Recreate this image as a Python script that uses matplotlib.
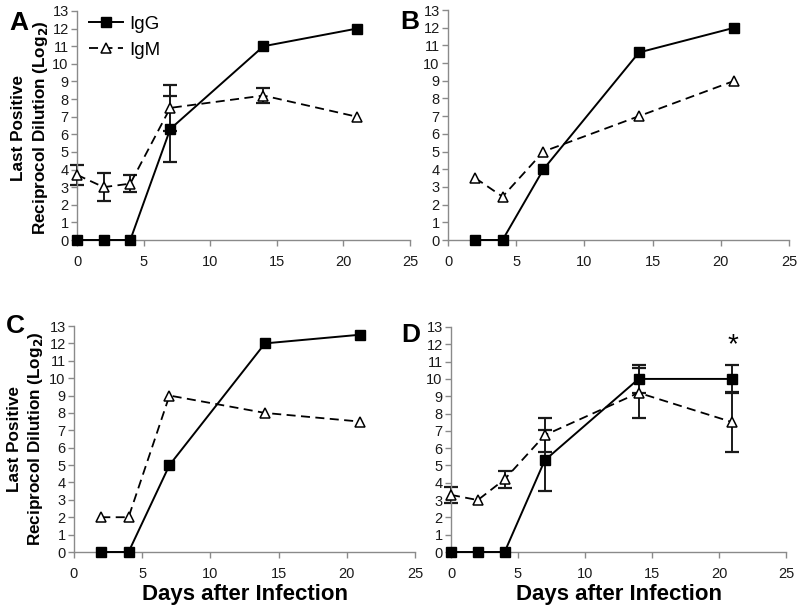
import matplotlib
matplotlib.use("Agg")
import matplotlib.pyplot as plt
import numpy as np

plt.rcParams['font.family'] = ['Liberation Sans', 'DejaVu Sans']

# ---- data ----
days_a = [0, 2, 4, 7, 14, 21]
igg_a = [0, 0, 0, 6.3, 11, 12]
igg_a_err = [0, 0, 0, 1.9, 0, 0]
igm_a = [3.7, 3.0, 3.2, 7.5, 8.2, 7.0]
igm_a_err = [0.55, 0.8, 0.47, 1.3, 0.45, 0]

days_b = [2, 4, 7, 14, 21]
igg_b = [0, 0, 4, 10.6, 12]
igm_b = [3.5, 2.45, 5, 7, 9]

days_c = [2, 4, 7, 14, 21]
igg_c = [0, 0, 5, 12, 12.5]
igm_c = [2, 2, 9, 8, 7.5]

days_d = [0, 2, 4, 7, 14, 21]
igg_d = [0, 0, 0, 5.3, 10, 10]
igg_d_err = [0, 0, 0, 1.75, 0.8, 0.8]
igm_d = [3.3, 3.0, 4.2, 6.75, 9.2, 7.5]
igm_d_err = [0.45, 0, 0.5, 1.0, 1.45, 1.75]

panel_labels = ['A', 'B', 'C', 'D']
series_names = ['IgG', 'IgM']
x_ticks = [0, 5, 10, 15, 20, 25]
y_ticks = list(range(0, 14))
ylabel_lines = ['Last Positive', 'Reciprocol Dilution (Log$_\\mathbf{2}$)']
xlabel = 'Days after Infection'

fig = plt.figure(figsize=(8, 6.16), dpi=100)
rects = {
    'A': [77/800, 1-240/616, (410-77)/800, (240-11)/616],
    'B': [448/800, 1-240/616, (789-448)/800, (240-10)/616],
    'C': [74/800, 1-552/616, (415-74)/800, (552-326)/616],
    'D': [451/800, 1-552/616, (786-451)/800, (552-327)/616],
}
data = {
    'A': (days_a, igg_a, igg_a_err, igm_a, igm_a_err),
    'B': (days_b, igg_b, None, igm_b, None),
    'C': (days_c, igg_c, None, igm_c, None),
    'D': (days_d, igg_d, igg_d_err, igm_d, igm_d_err),
}
axcol = '#8a8a8a'

def draw_err(ax, x, y, e):
    if e is None:
        return
    x = np.array(x); y = np.array(y); e = np.array(e)
    m = e > 0
    ax.errorbar(x[m], y[m], yerr=e[m], fmt='none', ecolor='#1a1a1a',
                elinewidth=1.4, capsize=5, capthick=1.6, clip_on=False, zorder=2)

axes = {}
for lab in panel_labels:
    ax = fig.add_axes(rects[lab])
    axes[lab] = ax
    d, g, ge, m, me = data[lab]
    draw_err(ax, d, g, ge)
    draw_err(ax, d, m, me)
    ax.plot(d, g, '-', color='black', lw=1.4, marker='s', ms=7,
            mfc='black', mec='black', clip_on=False, zorder=4, label=series_names[0])
    ax.plot(d, m, color='black', lw=1.3, ls=(0, (5, 3)), marker='^', ms=7,
            mfc='white', mec='black', mew=1.1, clip_on=False, zorder=3, label=series_names[1])
    ax.set_xlim(0, 25)
    ax.set_ylim(0, 13)
    ax.set_xticks(x_ticks)
    ax.set_yticks(y_ticks)
    for s in ['top', 'right']:
        ax.spines[s].set_visible(False)
    for s in ['left', 'bottom']:
        ax.spines[s].set_color(axcol)
        ax.spines[s].set_linewidth(1.0)
    ax.tick_params(axis='both', direction='out', length=4, width=1.0, color=axcol,
                   labelsize=10.5, labelcolor='#1a1a1a')
    ax.tick_params(axis='x', pad=7)
    ax.tick_params(axis='y', pad=2)

# two-line y labels (A and C)
for (x1, x2, yc) in ((19, 41, 128), (15, 36, 439)):
    fig.text(x1/800, 1-yc/616, ylabel_lines[0], rotation=90, ha='center', va='center',
             fontsize=12.3, fontweight='bold')
    fig.text(x2/800, 1-yc/616, ylabel_lines[1], rotation=90, ha='center', va='center',
             fontsize=12.3, fontweight='bold')

axes['C'].set_xlabel(xlabel, fontsize=16, fontweight='bold', labelpad=2)
axes['D'].set_xlabel(xlabel, fontsize=16, fontweight='bold', labelpad=2)

leg = axes['A'].legend(loc='upper left', bbox_to_anchor=(0.025, 0.995), frameon=False,
                       fontsize=13.5, handlelength=1.8, handletextpad=0.35, labelspacing=0.45,
                       borderaxespad=0, borderpad=0.2)

# panel letters
fig.text(9/800, 1-30/616, 'A', fontsize=19, fontweight='bold')
fig.text(400/800, 1-29/616, 'B', fontsize=19, fontweight='bold')
fig.text(6/800, 1-333/616, 'C', fontsize=19, fontweight='bold')
fig.text(401/800, 1-342/616, 'D', fontsize=19, fontweight='bold')

# asterisk
axes['D'].text(21, 11.2, '*', ha='center', va='bottom', fontsize=20)

fig.savefig('out.png', dpi=100)
